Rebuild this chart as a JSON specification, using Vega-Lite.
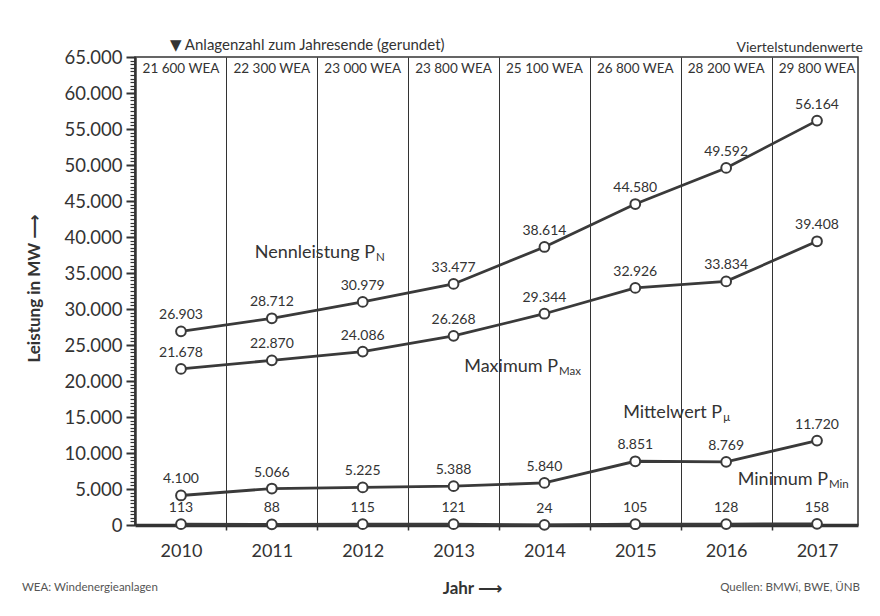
{
  "$schema": "https://vega.github.io/schema/vega-lite/v6.json",
  "width": 723,
  "height": 468,
  "autosize": "none",
  "padding": {"left": 135, "top": 57, "right": 22, "bottom": 91},
  "background": "white",
  "config": {
    "locale": {"number": {"decimal": ",", "thousands": ".", "grouping": [3], "currency": ["", " €"]}},
    "view": {"stroke": "#333333", "strokeWidth": 1.5},
    "font": "Lato, DejaVu Sans",
    "text": {"font": "Lato, DejaVu Sans", "color": "#333333"}
  },
  "datasets": {
    "power": [
      {"year": 2010, "series": "Nennleistung", "value": 26903},
      {"year": 2011, "series": "Nennleistung", "value": 28712},
      {"year": 2012, "series": "Nennleistung", "value": 30979},
      {"year": 2013, "series": "Nennleistung", "value": 33477},
      {"year": 2014, "series": "Nennleistung", "value": 38614},
      {"year": 2015, "series": "Nennleistung", "value": 44580},
      {"year": 2016, "series": "Nennleistung", "value": 49592},
      {"year": 2017, "series": "Nennleistung", "value": 56164},
      {"year": 2010, "series": "Maximum", "value": 21678},
      {"year": 2011, "series": "Maximum", "value": 22870},
      {"year": 2012, "series": "Maximum", "value": 24086},
      {"year": 2013, "series": "Maximum", "value": 26268},
      {"year": 2014, "series": "Maximum", "value": 29344},
      {"year": 2015, "series": "Maximum", "value": 32926},
      {"year": 2016, "series": "Maximum", "value": 33834},
      {"year": 2017, "series": "Maximum", "value": 39408},
      {"year": 2010, "series": "Mittelwert", "value": 4100},
      {"year": 2011, "series": "Mittelwert", "value": 5066},
      {"year": 2012, "series": "Mittelwert", "value": 5225},
      {"year": 2013, "series": "Mittelwert", "value": 5388},
      {"year": 2014, "series": "Mittelwert", "value": 5840},
      {"year": 2015, "series": "Mittelwert", "value": 8851},
      {"year": 2016, "series": "Mittelwert", "value": 8769},
      {"year": 2017, "series": "Mittelwert", "value": 11720},
      {"year": 2010, "series": "Minimum", "value": 113},
      {"year": 2011, "series": "Minimum", "value": 88},
      {"year": 2012, "series": "Minimum", "value": 115},
      {"year": 2013, "series": "Minimum", "value": 121},
      {"year": 2014, "series": "Minimum", "value": 24},
      {"year": 2015, "series": "Minimum", "value": 105},
      {"year": 2016, "series": "Minimum", "value": 128},
      {"year": 2017, "series": "Minimum", "value": 158}
    ],
    "wea": [
      {"year": 2010, "label": "21 600 WEA"},
      {"year": 2011, "label": "22 300 WEA"},
      {"year": 2012, "label": "23 000 WEA"},
      {"year": 2013, "label": "23 800 WEA"},
      {"year": 2014, "label": "25 100 WEA"},
      {"year": 2015, "label": "26 800 WEA"},
      {"year": 2016, "label": "28 200 WEA"},
      {"year": 2017, "label": "29 800 WEA"}
    ],
    "one": [{}]
  },
  "resolve": {"axis": {"x": "independent", "y": "independent"}},
  "layer": [
    {
      "data": {"name": "power"},
      "mark": {"type": "line", "color": "#3a3a3a"},
      "encoding": {
        "x": {
          "field": "year", "type": "quantitative",
          "scale": {"domain": [2009.494, 2017.451], "nice": false, "zero": false},
          "axis": {
            "orient": "bottom", "values": [2010, 2011, 2012, 2013, 2014, 2015, 2016, 2017], "format": "d",
            "ticks": false, "grid": false, "domain": true, "domainColor": "#333333", "domainWidth": 3.5,
            "labelFontSize": 18, "labelColor": "#333333", "labelPadding": 17, "labelFont": "Lato",
            "title": "Jahr ⟶", "titleFont": "Lato, DejaVu Sans", "titleFontSize": 17, "titleFontWeight": "bold",
            "titleColor": "#333333", "titleX": 337, "titleY": 63, "titleBaseline": "middle", "titleAnchor": "middle"
          }
        },
        "y": {
          "field": "value", "type": "quantitative",
          "scale": {"domain": [0, 65000], "nice": false},
          "axis": {
            "orient": "left", "values": [0, 5000, 10000, 15000, 20000, 25000, 30000, 35000, 40000, 45000, 50000, 55000, 60000, 65000],
            "format": ",d", "grid": false, "domainColor": "#333333", "domainWidth": 2.5,
            "tickColor": "#333333", "tickSize": 9, "tickWidth": 2, "labelPadding": 4,
            "labelFontSize": 18.5, "labelColor": "#333333", "labelFont": "Lato",
            "title": "Leistung in MW ⟶", "titleFont": "Lato, DejaVu Sans", "titleFontSize": 17, "titleFontWeight": "bold",
            "titleColor": "#333333", "titleX": -101, "titleY": 231, "titleAnchor": "middle", "titleBaseline": "middle", "titleAngle": -90
          }
        },
        "detail": {"field": "series"},
        "strokeWidth": {
          "field": "series", "type": "nominal",
          "scale": {"domain": ["Nennleistung", "Maximum", "Mittelwert", "Minimum"], "range": [2.8, 2.8, 2.8, 4.5]},
          "legend": null
        }
      }
    },
    {
      "data": {"name": "power"},
      "mark": {"type": "point", "filled": true, "fill": "white", "stroke": "#3a3a3a", "strokeWidth": 2, "size": 95, "opacity": 1},
      "encoding": {
        "x": {
          "field": "year", "type": "quantitative",
          "axis": {
            "orient": "bottom", "values": [2010.5, 2011.5, 2012.5, 2013.5, 2014.5, 2015.5, 2016.5],
            "labels": false, "domain": false, "ticks": true, "tickSize": 5, "tickWidth": 1.5, "tickColor": "#333333",
            "grid": true, "gridColor": "#333333", "gridWidth": 1, "gridOpacity": 1, "title": null
          }
        },
        "y": {
          "field": "value", "type": "quantitative",
          "axis": {
            "orient": "left", "tickCount": 130, "labels": false, "domain": false, "grid": false,
            "tickSize": 5, "tickWidth": 1.2, "tickColor": "#333333", "title": null
          }
        }
      }
    },
    {
      "data": {"name": "power"},
      "mark": {"type": "text", "dy": -16, "fontSize": 14, "baseline": "middle", "align": "center"},
      "encoding": {
        "x": {"field": "year", "type": "quantitative", "axis": null},
        "y": {"field": "value", "type": "quantitative", "axis": null},
        "text": {"field": "value", "type": "quantitative", "format": ",d"}
      }
    },
    {
      "data": {"name": "wea"},
      "mark": {"type": "text", "fontSize": 13.5, "baseline": "middle", "align": "center"},
      "encoding": {
        "x": {"field": "year", "type": "quantitative", "axis": null},
        "y": {"datum": 63300, "type": "quantitative", "axis": null},
        "text": {"field": "label"}
      }
    },
    {
      "data": {"name": "one"},
      "mark": {"type": "text", "fontSize": 15, "baseline": "middle", "align": "left"},
      "encoding": {
        "x": {"datum": 2009.879, "type": "quantitative", "axis": null},
        "y": {"datum": 66667, "type": "quantitative", "axis": null},
        "text": {"value": "▼ Anlagenzahl zum Jahresende (gerundet)"}
      }
    },
    {
      "data": {"name": "one"},
      "mark": {"type": "text", "fontSize": 14, "baseline": "middle", "align": "right"},
      "encoding": {
        "x": {"datum": 2017.506, "type": "quantitative", "axis": null},
        "y": {"datum": 66250, "type": "quantitative", "axis": null},
        "text": {"value": "Viertelstundenwerte"}
      }
    },
    {
      "data": {"name": "one"},
      "mark": {"type": "text", "fontSize": 18, "baseline": "middle", "align": "right"},
      "encoding": {
        "x": {"datum": 2012.135, "type": "quantitative", "axis": null},
        "y": {"datum": 37778, "type": "quantitative", "axis": null},
        "text": {"value": "Nennleistung P"}
      }
    },
    {
      "data": {"name": "one"},
      "mark": {"type": "text", "fontSize": 11.5, "baseline": "middle", "align": "left", "dy": 5, "dx": 1},
      "encoding": {
        "x": {"datum": 2012.135, "type": "quantitative", "axis": null},
        "y": {"datum": 37778, "type": "quantitative", "axis": null},
        "text": {"value": "N"}
      }
    },
    {
      "data": {"name": "one"},
      "mark": {"type": "text", "fontSize": 18, "baseline": "middle", "align": "right"},
      "encoding": {
        "x": {"datum": 2014.149, "type": "quantitative", "axis": null},
        "y": {"datum": 21944, "type": "quantitative", "axis": null},
        "text": {"value": "Maximum P"}
      }
    },
    {
      "data": {"name": "one"},
      "mark": {"type": "text", "fontSize": 11.5, "baseline": "middle", "align": "left", "dy": 5, "dx": 1},
      "encoding": {
        "x": {"datum": 2014.149, "type": "quantitative", "axis": null},
        "y": {"datum": 21944, "type": "quantitative", "axis": null},
        "text": {"value": "Max"}
      }
    },
    {
      "data": {"name": "one"},
      "mark": {"type": "text", "fontSize": 18, "baseline": "middle", "align": "right"},
      "encoding": {
        "x": {"datum": 2015.955, "type": "quantitative", "axis": null},
        "y": {"datum": 15556, "type": "quantitative", "axis": null},
        "text": {"value": "Mittelwert P"}
      }
    },
    {
      "data": {"name": "one"},
      "mark": {"type": "text", "fontSize": 11.5, "baseline": "middle", "align": "left", "dy": 5, "dx": 1},
      "encoding": {
        "x": {"datum": 2015.955, "type": "quantitative", "axis": null},
        "y": {"datum": 15556, "type": "quantitative", "axis": null},
        "text": {"value": "µ"}
      }
    },
    {
      "data": {"name": "one"},
      "mark": {"type": "text", "fontSize": 18, "baseline": "middle", "align": "right"},
      "encoding": {
        "x": {"datum": 2017.121, "type": "quantitative", "axis": null},
        "y": {"datum": 6250, "type": "quantitative", "axis": null},
        "text": {"value": "Minimum P"}
      }
    },
    {
      "data": {"name": "one"},
      "mark": {"type": "text", "fontSize": 11.5, "baseline": "middle", "align": "left", "dy": 5, "dx": 1},
      "encoding": {
        "x": {"datum": 2017.121, "type": "quantitative", "axis": null},
        "y": {"datum": 6250, "type": "quantitative", "axis": null},
        "text": {"value": "Min"}
      }
    },
    {
      "data": {"name": "one"},
      "mark": {"type": "text", "fontSize": 11.5, "baseline": "middle", "align": "left", "color": "#555555"},
      "encoding": {
        "x": {"datum": 2008.25, "type": "quantitative", "axis": null},
        "y": {"datum": -8750, "type": "quantitative", "axis": null},
        "text": {"value": "WEA: Windenergieanlagen"}
      }
    },
    {
      "data": {"name": "one"},
      "mark": {"type": "text", "fontSize": 11.5, "baseline": "middle", "align": "right", "color": "#555555"},
      "encoding": {
        "x": {"datum": 2017.473, "type": "quantitative", "axis": null},
        "y": {"datum": -8750, "type": "quantitative", "axis": null},
        "text": {"value": "Quellen: BMWi, BWE, ÜNB"}
      }
    }
  ]
}
